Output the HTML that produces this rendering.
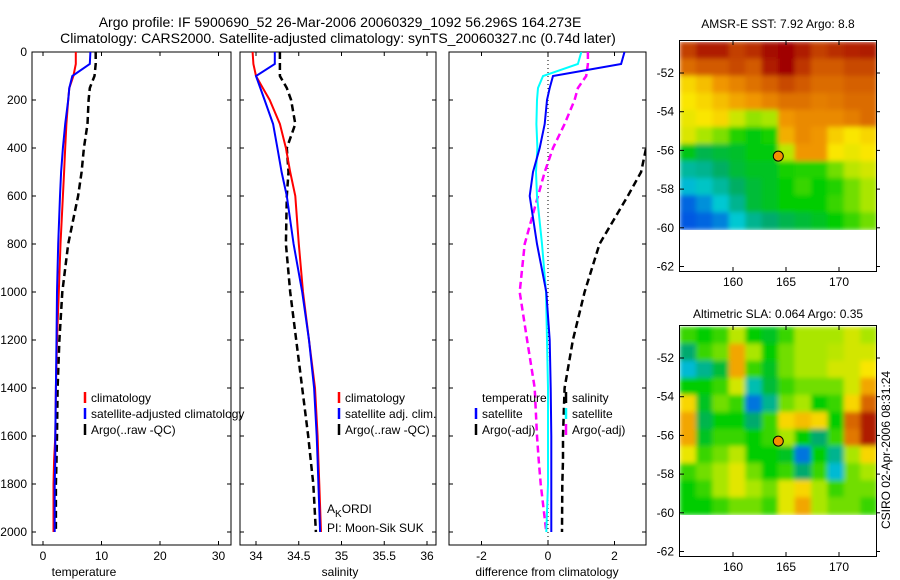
<!DOCTYPE html>
<html><head><meta charset="utf-8"><style>
body{margin:0;background:#fff;}
svg{display:block;font-family:"Liberation Sans",sans-serif;}
</style></head><body>
<svg id="fig" width="900" height="580" viewBox="0 0 900 580">
<defs>
<clipPath id="c1"><rect x="32" y="52" width="199" height="493"/></clipPath>
<clipPath id="c2"><rect x="240" y="52" width="196" height="493"/></clipPath>
<clipPath id="c3"><rect x="449" y="52" width="197" height="493"/></clipPath>
<clipPath id="m1"><rect x="680" y="42" width="196" height="188"/></clipPath>
<clipPath id="m2"><rect x="680" y="326" width="196" height="189"/></clipPath>
<filter id="bl" x="0" y="0" width="1" height="1"><feGaussianBlur stdDeviation="2.5" edgeMode="duplicate"/></filter>
</defs>
<text x="340" y="27" font-size="14" text-anchor="middle">Argo profile: IF 5900690_52 26-Mar-2006 20060329_1092 56.296S 164.273E</text>
<text x="338" y="43" font-size="14" text-anchor="middle">Climatology: CARS2000. Satellite-adjusted climatology: synTS_20060327.nc (0.74d later)</text>
<g id="g"></g>
<text x="84" y="576" font-size="12" text-anchor="middle">temperature</text>
<text x="340" y="576" font-size="12" text-anchor="middle">salinity</text>
<text x="547" y="576" font-size="12" text-anchor="middle">difference from climatology</text>
<text x="778" y="28" font-size="12" text-anchor="middle">AMSR-E SST: 7.92 Argo: 8.8</text>
<text x="778" y="318" font-size="12" text-anchor="middle">Altimetric SLA: 0.064 Argo: 0.35</text>
<text transform="translate(890,450) rotate(-90)" font-size="12" text-anchor="middle">CSIRO 02-Apr-2006 08:31:24</text>
<text x="327" y="513" font-size="12">A<tspan font-size="10" dy="4">K</tspan><tspan dy="-4">ORDI</tspan></text>
<text x="327" y="532" font-size="12">PI: Moon-Sik SUK</text>
</svg>
<script>
const depths=[0,50,100,150,200,300,400,500,600,800,1000,1200,1400,1600,1700,1800,2000];
const tempClim=[5.6,5.6,5.2,4.5,4.3,4.0,3.8,3.6,3.4,3.0,2.7,2.4,2.2,2.1,1.9,1.8,1.8];
const tempSat=[8.1,8.0,5.0,4.5,4.3,3.8,3.4,3.1,2.9,2.6,2.4,2.3,2.2,2.1,2.1,2.0,2.0];
const tempArgo=[9.0,9.0,8.8,8.0,7.8,7.6,7.0,6.6,6.0,4.3,3.3,2.8,2.5,2.4,2.3,2.2,2.2];
const salClim=[33.96,33.97,34.0,34.08,34.16,34.28,34.35,34.4,34.46,34.5,34.55,34.62,34.69,34.72,34.73,34.74,34.76];
const salSat=[34.22,34.22,34.0,34.05,34.1,34.2,34.25,34.3,34.36,34.44,34.54,34.62,34.68,34.71,34.72,34.73,34.75];
const salArgo=[34.28,34.28,34.28,34.36,34.41,34.46,34.36,34.38,34.36,34.35,34.4,34.47,34.54,34.61,34.64,34.67,34.70];
const dTempSat=[2.3,2.2,0.15,0.05,-0.03,-0.1,-0.25,-0.45,-0.55,-0.33,-0.05,0.05,0.08,0.1,0.1,0.1,0.1];
const dSalSat=[1.0,0.9,-0.15,-0.3,-0.33,-0.35,-0.32,-0.36,-0.33,-0.18,-0.06,-0.03,0.0,0.0,0.0,0.0,-0.05];
const dSalArgo=[1.2,1.2,1.15,0.9,0.8,0.5,0.15,-0.1,-0.3,-0.7,-0.85,-0.63,-0.4,-0.33,-0.28,-0.22,-0.05];
const dTempArgo=[3.5,3.5,3.4,3.3,3.2,3.1,2.95,2.8,2.4,1.55,1.1,0.75,0.5,0.45,0.45,0.43,0.42];
const depthTicks=[0,200,400,600,800,1000,1200,1400,1600,1800,2000];
const tempTicks=[0,10,20,30];
const salTicks=[34,34.5,35,35.5,36];
const salTickLabels=["34","34.5","35","35.5","36"];
const diffTicks=[-2,0,2];
const sstGrid=[
[0.93,0.97,0.97,0.93,0.95,0.99,1.0,0.97,0.93,0.95,0.96,0.97],
[0.87,0.9,0.9,0.92,0.9,0.97,1.0,0.94,0.9,0.9,0.92,0.92],
[0.72,0.75,0.8,0.83,0.86,0.89,0.92,0.9,0.87,0.87,0.89,0.89],
[0.7,0.72,0.75,0.78,0.8,0.83,0.86,0.86,0.84,0.85,0.87,0.87],
[0.68,0.7,0.72,0.64,0.58,0.6,0.8,0.82,0.82,0.82,0.84,0.87],
[0.66,0.6,0.56,0.48,0.44,0.47,0.77,0.82,0.8,0.73,0.7,0.72],
[0.43,0.38,0.4,0.41,0.44,0.44,0.62,0.8,0.8,0.7,0.68,0.7],
[0.28,0.3,0.36,0.4,0.42,0.42,0.47,0.48,0.48,0.55,0.62,0.65],
[0.18,0.22,0.28,0.36,0.4,0.42,0.45,0.5,0.45,0.48,0.55,0.6],
[0.06,0.12,0.2,0.3,0.4,0.42,0.45,0.45,0.45,0.5,0.55,0.6],
[0.04,0.06,0.1,0.2,0.3,0.35,0.38,0.4,0.42,0.45,0.5,0.55]];
const slaGrid=[
[0.5,0.45,0.5,0.62,0.45,0.42,0.5,0.6,0.6,0.6,0.65,0.6],
[0.35,0.5,0.55,0.78,0.6,0.45,0.55,0.6,0.6,0.62,0.65,0.65],
[0.18,0.3,0.4,0.78,0.5,0.42,0.55,0.6,0.6,0.65,0.65,0.7],
[0.45,0.45,0.5,0.65,0.25,0.4,0.5,0.55,0.55,0.55,0.65,0.78],
[0.72,0.42,0.55,0.5,0.08,0.3,0.55,0.6,0.45,0.5,0.72,0.88],
[0.78,0.38,0.45,0.45,0.35,0.5,0.72,0.75,0.72,0.45,0.88,0.97],
[0.78,0.42,0.5,0.5,0.45,0.5,0.6,0.45,0.35,0.5,0.85,0.97],
[0.68,0.5,0.55,0.62,0.45,0.45,0.42,0.08,0.45,0.3,0.6,0.72],
[0.5,0.55,0.6,0.67,0.55,0.45,0.5,0.35,0.5,0.18,0.55,0.6],
[0.45,0.5,0.6,0.67,0.6,0.55,0.67,0.72,0.6,0.5,0.55,0.55],
[0.45,0.45,0.5,0.55,0.55,0.5,0.67,0.78,0.6,0.55,0.55,0.5]];
const lonTicks=[160,165,170];
const latTicks=[-52,-54,-56,-58,-60,-62];
const argoLon=164.273, argoLat=-56.296;

const NS="http://www.w3.org/2000/svg";
const G=document.getElementById('g');
function mk(t,a,p){const e=document.createElementNS(NS,t);for(const k in a)e.setAttribute(k,a[k]);(p||G).appendChild(e);return e;}
const yD=d=>52+d*0.24;
const xT=v=>43+v*5.85;
const xS=v=>256+(v-34)*85.5;
const xDf=v=>548+v*33.25;

function panel(x0,w,ticks,labels,xf,name,yl){
  const b=mk('rect',{x:x0,y:52,width:w,height:493,fill:'none',stroke:'#000','stroke-width':1});
  
  
  depthTicks.forEach(d=>{const y=yD(d);
    mk('line',{x1:x0,x2:x0+4,y1:y,y2:y,stroke:'#000'});mk('line',{x1:x0+w-4,x2:x0+w,y1:y,y2:y,stroke:'#000'});
    if(yl){const t=mk('text',{x:27,y:y+4,'font-size':12,'text-anchor':'end'});t.textContent=d;
      
      }});
  ticks.forEach((v,i)=>{const x=xf(v);
    mk('line',{x1:x,x2:x,y1:545,y2:541,stroke:'#000'});mk('line',{x1:x,x2:x,y1:52,y2:56,stroke:'#000'});
    const t=mk('text',{x:x,y:560,'font-size':12,'text-anchor':'middle'});t.textContent=labels[i];
    
    });
}
panel(32,199,tempTicks,tempTicks.map(String),xT,'temperature',true);
panel(240,196,salTicks,salTickLabels,xS,'salinity',false);
panel(449,197,diffTicks,diffTicks.map(String),xDf,'difference',false);
mk('line',{x1:xDf(0),x2:xDf(0),y1:52,y2:545,stroke:'#000','stroke-dasharray':'1,3'});

function prof(vals,xf,col,dash,clip,name){
  const pts=vals.map((v,i)=>xf(v).toFixed(1)+','+yD(depths[i]).toFixed(1)).join(' ');
  const a={points:pts,fill:'none',stroke:col,'stroke-width':dash?2.5:2,'clip-path':'url(#'+clip+')'};
  if(dash)a['stroke-dasharray']='7,4';
  const p=mk('polyline',a);
  
  
}
prof(tempArgo,xT,'#000',true,'c1','temp-argo-line');
prof(tempClim,xT,'#f00',false,'c1','temp-climatology-line');
prof(tempSat,xT,'#00f',false,'c1','temp-satellite-line');
prof(salArgo,xS,'#000',true,'c2','sal-argo-line');
prof(salClim,xS,'#f00',false,'c2','sal-climatology-line');
prof(salSat,xS,'#00f',false,'c2','sal-satellite-line');
prof(dTempArgo,xDf,'#000',true,'c3','diff-temp-argo-line');
prof(dSalArgo,xDf,'#f0f',true,'c3','diff-sal-argo-line');
prof(dSalSat,xDf,'#0ff',false,'c3','diff-sal-satellite-line');
prof(dTempSat,xDf,'#00f',false,'c3','diff-temp-satellite-line');

function leg(x,y,col,txt){
  if(col)mk('line',{x1:x,x2:x,y1:y-10,y2:y+1,stroke:col,'stroke-width':2.5});
  const t=mk('text',{x:x+6,y:y,'font-size':12});t.textContent=txt;
  
  
}
leg(85,402,'#f00','climatology');leg(85,418,'#00f','satellite-adjusted climatology');leg(85,434,'#000','Argo(..raw -QC)');
leg(339,402,'#f00','climatology');leg(339,418,'#00f','satellite adj. clim.');leg(339,434,'#000','Argo(..raw -QC)');
leg(476,402,null,'temperature');leg(476,418,'#00f','satellite');leg(476,434,'#000','Argo(-adj)');
leg(566,402,'#000','salinity');leg(566,418,'#0ff','satellite');leg(566,434,'#f0f','Argo(-adj)');

function cmap(v){
  const s=[[0,[0,60,230]],[0.2,[0,200,210]],[0.35,[0,170,110]],[0.45,[0,205,0]],[0.6,[170,230,0]],[0.7,[250,230,0]],[0.8,[240,150,0]],[0.9,[210,90,0]],[1,[160,0,0]]];
  for(let i=1;i<s.length;i++)if(v<=s[i][0]){const f=(v-s[i-1][0])/(s[i][0]-s[i-1][0]);const a=s[i-1][1],b=s[i][1];
    return 'rgb('+a.map((c,k)=>Math.round(c+(b[k]-c)*f)).join(',')+')';}
  return 'rgb(160,0,0)';
}
const xL=lon=>680+(lon-155)*10.6;
function map(grid,top,clip,name){
  const yL=lat=>top+(-52-lat)*19.35;
  const g=mk('g',{'clip-path':'url(#'+clip+')'});
  const g2=mk('g',{filter:'url(#bl)'},g);
  const nr=grid.length,nc=grid[0].length,lat0=-50.4,lat1=-60.1,lon0=155,lon1=173.6;
  grid.forEach((row,r)=>row.forEach((v,c)=>{
    const x=xL(lon0+(lon1-lon0)*c/nc),x2=xL(lon0+(lon1-lon0)*(c+1)/nc);
    const y=yL(lat0+(lat1-lat0)*r/nr),y2=yL(lat0+(lat1-lat0)*(r+1)/nr);
    const cell=mk('rect',{x:x-0.5,y:y-0.5,width:x2-x+1,height:y2-y+1,fill:cmap(v)},g2);
    
    
  }));
  const box=mk('rect',{x:679.5,y:top-32.5,width:197,height:231,fill:'none',stroke:'#000'});
  
  
  lonTicks.forEach(l=>{const x=xL(l);mk('line',{x1:x,x2:x,y1:top+198,y2:top+194,stroke:'#000'});mk('line',{x1:x,x2:x,y1:top-32,y2:top-28,stroke:'#000'});
    const t=mk('text',{x:x,y:top+213,'font-size':12,'text-anchor':'middle'});t.textContent=l;
    
    });
  latTicks.forEach(l=>{const y=yL(l);mk('line',{x1:876,x2:880,y1:y,y2:y,stroke:'#000'});mk('line',{x1:680,x2:684,y1:y,y2:y,stroke:'#000'});
    const t=mk('text',{x:674,y:y+4,'font-size':12,'text-anchor':'end'});t.textContent=l;
    
    });
  const c=mk('circle',{cx:xL(argoLon),cy:yL(argoLat),r:5,fill:'#f39000',stroke:'#000'});
  
  
}
map(sstGrid,73,'m1','sst-map');
map(slaGrid,358,'m2','sla-map');
</script>
</body></html>
